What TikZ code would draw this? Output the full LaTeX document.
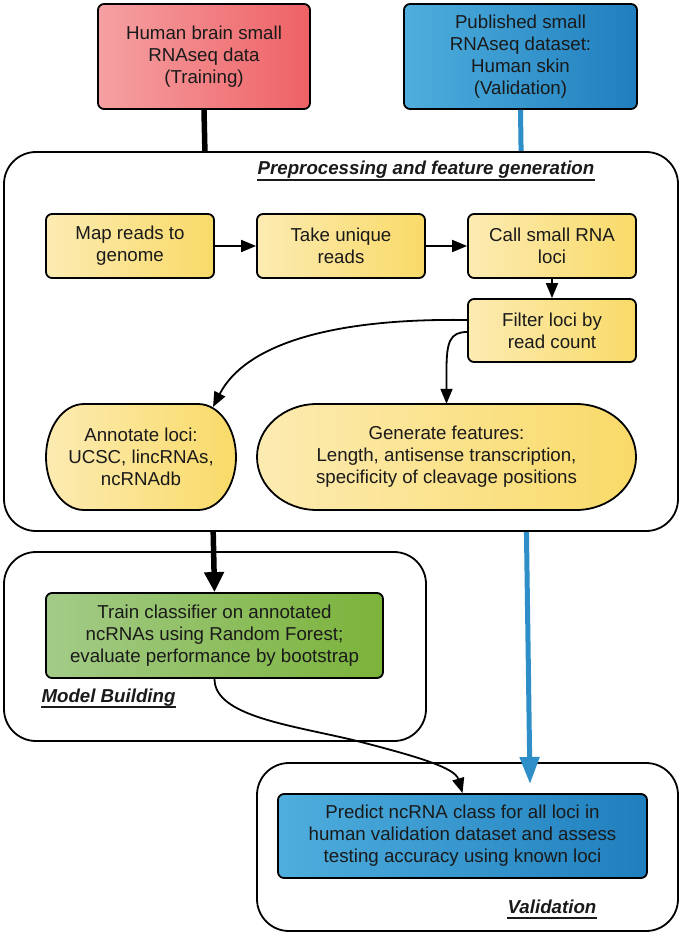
\documentclass[tikz,border=0pt]{standalone}
\usepackage{fontspec}
\setmainfont{Liberation Sans}
\usetikzlibrary{arrows.meta,calc}
\definecolor{redL}{HTML}{F5A1A3}
\definecolor{redR}{HTML}{EE6165}
\definecolor{blueL}{HTML}{4FAEDD}
\definecolor{blueR}{HTML}{1F7FBE}
\definecolor{yelL}{HTML}{FCEBB2}
\definecolor{yelR}{HTML}{F9DA68}
\definecolor{greenL}{HTML}{A3CB88}
\definecolor{greenR}{HTML}{7BB33A}
\definecolor{arrowblue}{HTML}{2E8FC8}
\definecolor{txt}{HTML}{1A1A1A}
\newcommand\dgfont{\fontsize{18.7}{22}\selectfont}
\begin{document}
\begin{tikzpicture}[x=1pt,y=-1pt,
  box/.style={draw=black, line width=1.8pt, rounded corners=6pt, align=center,
    font=\dgfont, inner sep=0pt, text=txt},
  ybox/.style={box, left color=yelL, right color=yelR, minimum width=168pt, minimum height=64pt},
  plain/.style={align=center, font=\dgfont, inner sep=0pt, text=txt},
  container/.style={draw=black, line width=1.8pt, rounded corners=32pt},
  lbl/.style={font=\dgfont\bfseries\itshape, inner sep=0pt, anchor=base, text=txt},
  uline/.style={line width=1.6pt, draw=txt},
  conn/.style={line width=1.8pt, -{Triangle[width=12pt,length=15pt]}},
  thickblack/.style={line width=5.5pt, -{Triangle[width=19pt,length=20pt]}},
  thickblue/.style={line width=5pt, draw=arrowblue, -{Triangle[width=19pt,length=27pt]}}
]
\useasboundingbox (0,0) rectangle (683,936);
\fill[white] (0,0) rectangle (683,936);

% lower containers
\draw[container] (4,552) rectangle (426,741);
\draw[container] (257,763) rectangle (678,931);

% top boxes
\node[box, left color=redL, right color=redR, minimum width=212pt, minimum height=105pt]
  (red) at (204,56.5) {Human brain small\\RNAseq data\\(Training)};
\node[box, left color=blueL, right color=blueR, minimum width=233pt, minimum height=105pt]
  (bluetop) at (520.5,56.5) {Published small\\RNAseq dataset:\\Human skin\\(Validation)};

% lower boxes
\node[box, left color=greenL, right color=greenR, minimum width=337pt, minimum height=85pt]
  (train) at (214.5,635.5) {Train classifier on annotated\\ncRNAs using Random Forest;\\evaluate performance by bootstrap};
\node[box, left color=blueL, right color=blueR, minimum width=369pt, minimum height=84pt]
  (predict) at (462.5,836) {Predict ncRNA class for all loci in\\human validation dataset and assess\\testing accuracy using known loci};

% thick flows
\coordinate (bluetip) at (530,784);
\draw[thickblack] (red.south) -- (train.north);
\draw[thickblue] (bluetop.south) -- (bluetip);

% preprocessing container
\draw[container, fill=white] (4,152) rectangle (678,531);

% labels
\node[lbl] (pretitle) at (426,175) {Preprocessing and feature generation};
\draw[uline] ([yshift=-5pt]pretitle.base west) -- ([yshift=-5pt]pretitle.base east);
\node[lbl] (mbtitle) at (108.5,702) {Model Building};
\draw[uline] ([yshift=-5pt]mbtitle.base west) -- ([yshift=-5pt]mbtitle.base east);
\node[lbl] (valtitle) at (552,913) {Validation};
\draw[uline] ([yshift=-5pt]valtitle.base west) -- ([yshift=-5pt]valtitle.base east);

% yellow boxes
\node[ybox] (map) at (130,246) {Map reads to\\genome};
\node[ybox] (take) at (341,246) {Take unique\\reads};
\node[ybox] (call) at (552,246) {Call small RNA\\loci};
\node[ybox, minimum height=63pt] (filter) at (552,330.5) {Filter loci by\\read count};

% rounded-end shapes
\shadedraw[left color=yelL, right color=yelR, draw=black, line width=1.8pt]
  (84,404) -- (198,404) arc[start angle=-90, end angle=90, x radius=38, y radius=53]
  -- (84,510) arc[start angle=90, end angle=270, x radius=38, y radius=53] -- cycle;
\node[plain, minimum width=190pt, minimum height=106pt] (annot) at (141,457)
  {Annotate loci:\\UCSC, lincRNAs,\\ncRNAdb};
\shadedraw[left color=yelL, right color=yelR, draw=black, line width=1.8pt]
  (317,404) -- (576,404) arc[start angle=-90, end angle=90, x radius=60, y radius=53]
  -- (317,510) arc[start angle=90, end angle=270, x radius=60, y radius=53] -- cycle;
\node[plain, minimum width=379pt, minimum height=106pt] (gen) at (446.5,457)
  {Generate features:\\Length, antisense transcription,\\specificity of cleavage positions};

% connectors
\draw[conn] (map) -- (take);
\draw[conn] (take) -- (call);
\draw[conn] (call) -- (filter);
\coordinate (annotin) at ($(annot.center)+(72,-50)$);
\draw[conn] ($(filter.west)+(0,-10.5)$) .. controls (330,318) and (245,345) .. (annotin);
\draw[conn] ($(filter.west)+(0,1.5)$) .. controls (450,332) and ($(gen.north)+(0,-62)$)
  .. ($(gen.north)+(0,-34)$) -- (gen.north);
\draw[conn] (train.south) .. controls +(0,37) and (290,725) .. (353,740)
  .. controls (420,757) and (455,768) .. (predict.north);
\end{tikzpicture}
\end{document}
